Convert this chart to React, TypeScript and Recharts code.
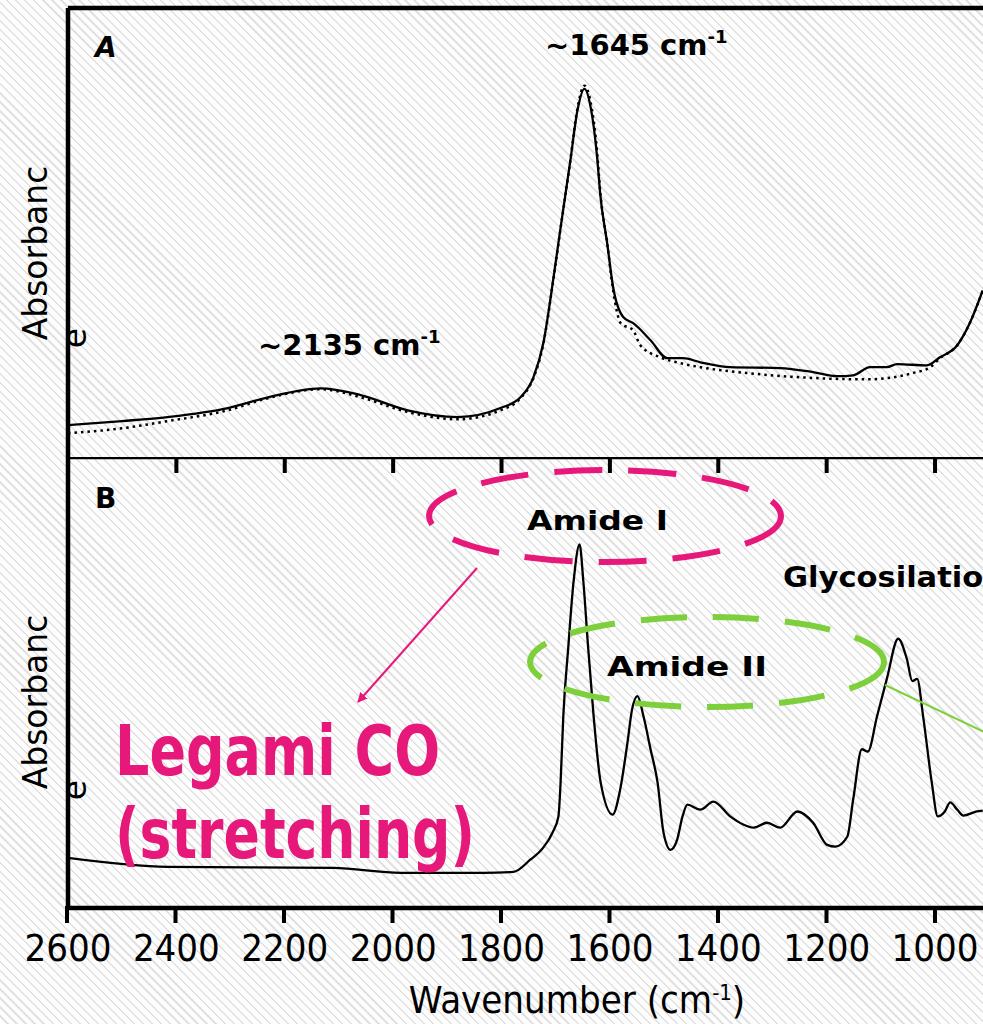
import React from "react";
import { LineChart, Line, XAxis, YAxis } from "recharts";

// panel A, solid trace
const wnA = [2600, 2500, 2416, 2305, 2231, 2134, 2060, 1973, 1881, 1802, 1765, 1741, 1723, 1704, 1691, 1673, 1660, 1647, 1636, 1623, 1618, 1605, 1594, 1575, 1557, 1525, 1494, 1465, 1433, 1378, 1286, 1225, 1181, 1151, 1120, 1089, 1070, 1015, 991, 959, 936, 912];
const absA = [0.071, 0.08, 0.089, 0.109, 0.133, 0.153, 0.138, 0.104, 0.089, 0.109, 0.133, 0.178, 0.253, 0.4, 0.511, 0.66, 0.771, 0.82, 0.782, 0.66, 0.587, 0.476, 0.378, 0.311, 0.298, 0.26, 0.22, 0.22, 0.211, 0.2, 0.198, 0.189, 0.18, 0.182, 0.2, 0.2, 0.207, 0.204, 0.222, 0.249, 0.298, 0.371];

// panel A, dotted trace
const wnDot = [2600, 2500, 2416, 2305, 2231, 2134, 2060, 1973, 1881, 1802, 1765, 1741, 1723, 1704, 1691, 1673, 1660, 1647, 1636, 1623, 1618, 1605, 1594, 1580, 1557, 1544, 1507, 1470, 1433, 1347, 1225, 1125, 1041, 1009, 991, 959, 936, 912];
const absDot = [0.053, 0.064, 0.08, 0.104, 0.131, 0.151, 0.133, 0.1, 0.084, 0.104, 0.131, 0.176, 0.251, 0.398, 0.509, 0.66, 0.776, 0.827, 0.793, 0.671, 0.593, 0.476, 0.371, 0.298, 0.282, 0.249, 0.222, 0.209, 0.2, 0.187, 0.176, 0.173, 0.187, 0.2, 0.22, 0.249, 0.298, 0.371];

// panel B
const wnB = [2600, 2416, 2110, 1986, 1833, 1778, 1747, 1723, 1706, 1695, 1691, 1686, 1677, 1667, 1656, 1649, 1640, 1630, 1617, 1595, 1581, 1568, 1559, 1549, 1538, 1525, 1512, 1501, 1488, 1476, 1466, 1457, 1433, 1409, 1378, 1354, 1335, 1310, 1286, 1254, 1225, 1199, 1184, 1162, 1151, 1135, 1124, 1107, 1089, 1068, 1052, 1042, 1033, 1022, 1006, 995, 982, 972, 959, 948, 923, 912];
const absB = [0.111, 0.091, 0.089, 0.078, 0.078, 0.08, 0.107, 0.134, 0.167, 0.203, 0.278, 0.425, 0.575, 0.724, 0.806, 0.724, 0.575, 0.425, 0.278, 0.207, 0.263, 0.363, 0.441, 0.47, 0.425, 0.352, 0.278, 0.167, 0.129, 0.151, 0.203, 0.229, 0.218, 0.236, 0.203, 0.185, 0.178, 0.189, 0.178, 0.214, 0.189, 0.14, 0.136, 0.158, 0.241, 0.352, 0.347, 0.425, 0.508, 0.597, 0.552, 0.503, 0.508, 0.425, 0.278, 0.203, 0.214, 0.234, 0.218, 0.205, 0.214, 0.216];

const xTicks = [2600, 2400, 2200, 2000, 1800, 1600, 1400, 1200, 1000];

const dataA = wnA.map((w, i) => ({ wn: w, v: absA[i] }));
const dataDot = wnDot.map((w, i) => ({ wn: w, v: absDot[i] }));
const dataB = wnB.map((w, i) => ({ wn: w, v: absB[i] }));

const PINK = "#E6197A";
const GREEN = "#7DCF3B";
const W = 983;
const PLOT_LEFT = 67;
const xDomain = [911.5, 2600];
const condensed = "'DejaVu Sans Condensed', 'DejaVu Sans', sans-serif";
const sans = "'DejaVu Sans', sans-serif";
const frame = { stroke: "#000", strokeWidth: 4.5 };

// same linear mapping the charts use (reversed axis), for the outward tick marks
const tickX = (t: number) => PLOT_LEFT + ((xDomain[1] - t) / (xDomain[1] - xDomain[0])) * (W - PLOT_LEFT);

// bottom axis labels
const LabelTick = (props: any) => {
  const { x, y, payload } = props;
  return (
    <text x={x} y={y} dy="0.71em" textAnchor="middle" fontFamily={condensed} fontSize={38} fill="#000">
      {payload.value}
    </text>
  );
};

// inward tick marks at the top of panel B
const MarkTick = (props: any) => {
  const { x, y } = props;
  return <rect x={x - 2} y={y - 16} width={4} height={16} fill="#000" />;
};

export default function App() {
  return (
    <div
      style={{
        position: "absolute",
        left: 0,
        top: 0,
        width: W,
        height: 1024,
        overflow: "hidden",
        background:
          "repeating-linear-gradient(45deg, #fdfdfd 0px, #fdfdfd 4.8px, #e2e2e2 4.8px, #e2e2e2 6.4px)",
      }}
    >
      <LineChart width={W} height={457} data={dataA} margin={{ top: 7, right: 0, bottom: 0, left: PLOT_LEFT }}>
        <XAxis
          dataKey="wn"
          type="number"
          orientation="top"
          height={1}
          stroke="#000"
          domain={xDomain}
          reversed
          allowDataOverflow
          tick={false}
          tickLine={false}
          axisLine={frame}
        />
        <YAxis width={1} stroke="#000" domain={[0, 1]} tick={false} tickLine={false} axisLine={frame} />
        <Line data={dataDot} dataKey="v" type="monotone" stroke="#000" strokeWidth={2.5} strokeDasharray="2.5 4" dot={false} isAnimationActive={false} />
        <Line data={dataA} dataKey="v" type="monotone" stroke="#000" strokeWidth={2.3} dot={false} isAnimationActive={false} />
      </LineChart>
      <LineChart width={W} height={567} data={dataB} margin={{ top: 0, right: 0, bottom: 0, left: PLOT_LEFT }}>
        <XAxis
          xAxisId="top"
          dataKey="wn"
          type="number"
          orientation="top"
          mirror
          height={1}
          stroke="#000"
          domain={xDomain}
          reversed
          allowDataOverflow
          ticks={xTicks}
          interval={0}
          tickSize={16}
          tickMargin={0}
          tickLine={false}
          tick={<MarkTick />}
          axisLine={frame}
        />
        <XAxis
          dataKey="wn"
          type="number"
          height={116}
          stroke="#000"
          domain={xDomain}
          reversed
          allowDataOverflow
          ticks={xTicks}
          interval={0}
          tickSize={14}
          tickMargin={12}
          tickLine={false}
          axisLine={frame}
          tick={<LabelTick />}
        />
        <YAxis width={1} stroke="#000" domain={[0, 1]} tick={false} tickLine={false} axisLine={frame} />
        <Line dataKey="v" type="monotone" stroke="#000" strokeWidth={2.3} dot={false} isAnimationActive={false} />
      </LineChart>

      <svg width={W} height={1024} style={{ position: "absolute", left: 0, top: 0, pointerEvents: "none" }}>
        <defs>
          <marker id="pinkHead" markerWidth="10" markerHeight="10" refX="9" refY="5" orient="auto" markerUnits="userSpaceOnUse">
            <path d="M0,0 L10,5 L0,10 z" fill={PINK} />
          </marker>
        </defs>

        {/* outward tick marks below panel B */}
        {xTicks.map((t) => (
          <rect key={t} x={tickX(t) - 2} y={906} width={4} height={17} fill="#000" />
        ))}

        {/* axis titles */}
        <text transform="translate(47,253) rotate(-90)" textAnchor="middle" fontFamily={sans} fontSize={33} fill="#000">Absorbanc</text>
        <text transform="translate(86,338) rotate(-90)" textAnchor="middle" fontFamily={sans} fontSize={33} fill="#000">e</text>
        <text transform="translate(47,702) rotate(-90)" textAnchor="middle" fontFamily={sans} fontSize={33} fill="#000">Absorbanc</text>
        <text transform="translate(86,790) rotate(-90)" textAnchor="middle" fontFamily={sans} fontSize={33} fill="#000">e</text>
        <text x={577} y={1013} textAnchor="middle" fontFamily={condensed} fontSize={38} fill="#000">
          Wavenumber (cm<tspan dy={-13} fontSize={22}>-1</tspan><tspan dy={13}>)</tspan>
        </text>

        {/* panel A */}
        <text x={95} y={57} fontFamily={sans} fontSize={28} fontWeight={700} fontStyle="italic" fill="#000">A</text>
        <text x={545} y={55} fontFamily={sans} fontSize={29} fontWeight={700} fill="#000">
          ~1645 cm<tspan dy={-12} fontSize={18}>-1</tspan>
        </text>
        <text x={258} y={355} fontFamily={sans} fontSize={29} fontWeight={700} fill="#000">
          ~2135 cm<tspan dy={-12} fontSize={18}>-1</tspan>
        </text>

        {/* panel B */}
        <text x={95} y={508} fontFamily={sans} fontSize={28} fontWeight={700} fill="#000">B</text>
        <ellipse cx={605} cy={516} rx={176} ry={46} fill="none" stroke={PINK} strokeWidth={6} strokeDasharray="48 26" />
        <text x={527} y={530} fontFamily={sans} fontSize={27} fontWeight={700} fill="#000" textLength={141} lengthAdjust="spacingAndGlyphs">Amide I</text>
        <ellipse cx={707} cy={662} rx={177} ry={45} fill="none" stroke={GREEN} strokeWidth={6} strokeDasharray="46 26" />
        <text x={607} y={676} fontFamily={sans} fontSize={27} fontWeight={700} fill="#000" textLength={160} lengthAdjust="spacingAndGlyphs">Amide II</text>
        <text x={783} y={587} fontFamily={sans} fontSize={28} fontWeight={700} fill="#000" textLength={222} lengthAdjust="spacingAndGlyphs">Glycosilation</text>
        <line x1={885} y1={685} x2={995} y2={737} stroke={GREEN} strokeWidth={2} />
        <line x1={477} y1={568} x2={358} y2={702} stroke={PINK} strokeWidth={2} markerEnd="url(#pinkHead)" />
        <text x={115} y={775} fontFamily={sans} fontSize={70} fontWeight={700} fill={PINK} textLength={325} lengthAdjust="spacingAndGlyphs">Legami CO</text>
        <text x={115} y={858} fontFamily={sans} fontSize={70} fontWeight={700} fill={PINK} textLength={360} lengthAdjust="spacingAndGlyphs">(stretching)</text>
      </svg>
    </div>
  );
}
